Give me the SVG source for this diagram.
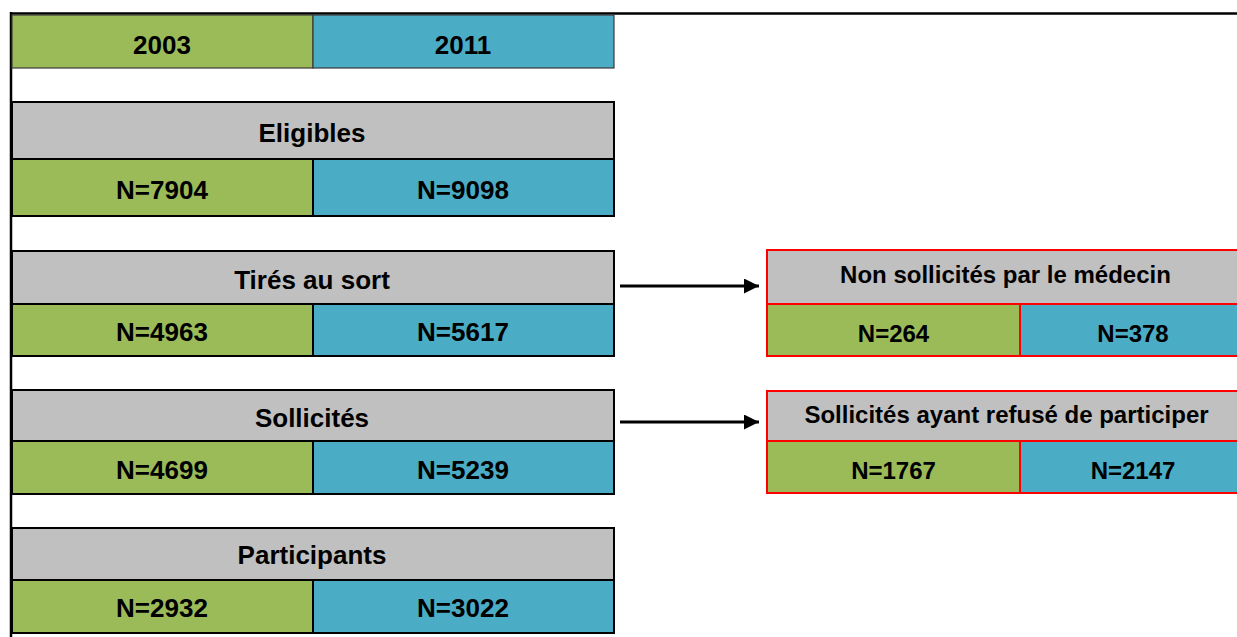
<svg xmlns="http://www.w3.org/2000/svg" width="1237" height="637" viewBox="0 0 1237 637">
<style>
  .g{fill:#9BBB59}
  .b{fill:#4BACC6}
  .h{fill:#C0C0C0}
  .lb{stroke:#000;stroke-width:2}
  .yb{stroke:#3A3A3A;stroke-width:1.2}
  .rb{stroke:#FF0000;stroke-width:2}
  text{font-family:"Liberation Sans",Arial,sans-serif;font-weight:bold;fill:#000;text-anchor:middle}
  .t26{font-size:26px}
  .t24{font-size:24px}
</style>
<defs>
  <marker id="ah" markerWidth="5" markerHeight="5" refX="5" refY="2.5" orient="auto" markerUnits="strokeWidth">
    <path d="M0,0 L5,2.5 L0,5 Z" fill="#000"/>
  </marker>
</defs>
<rect x="0" y="0" width="1237" height="637" fill="#fff"/>
<g id="frame">
  <line x1="11" y1="13.5" x2="1237" y2="13.5" stroke="#000" stroke-width="2.5"/>
  <line x1="11" y1="12" x2="11" y2="637" stroke="#000" stroke-width="2.5"/>
</g>
<g id="years">
  <rect class="g yb" x="12" y="15" width="301" height="53"/>
  <rect class="b yb" x="313" y="15" width="301" height="53"/>
  <text class="t26" x="162" y="54">2003</text>
  <text class="t26" x="463" y="54">2011</text>
</g>
<g id="eligibles">
  <rect class="h lb" x="12" y="102" width="602" height="57"/>
  <rect class="g lb" x="12" y="159" width="301" height="57"/>
  <rect class="b lb" x="313" y="159" width="301" height="57"/>
  <text class="t26" x="312" y="142">Eligibles</text>
  <text class="t26" x="162" y="199">N=7904</text>
  <text class="t26" x="463" y="199">N=9098</text>
</g>
<g id="tires">
  <rect class="h lb" x="12" y="251" width="602" height="53"/>
  <rect class="g lb" x="12" y="304" width="301" height="52"/>
  <rect class="b lb" x="313" y="304" width="301" height="52"/>
  <text class="t26" x="312" y="289">Tirés au sort</text>
  <text class="t26" x="162" y="341">N=4963</text>
  <text class="t26" x="463" y="341">N=5617</text>
</g>
<g id="sollicites">
  <rect class="h lb" x="12" y="390" width="602" height="51"/>
  <rect class="g lb" x="12" y="441" width="301" height="53"/>
  <rect class="b lb" x="313" y="441" width="301" height="53"/>
  <text class="t26" x="312" y="427">Sollicités</text>
  <text class="t26" x="162" y="479">N=4699</text>
  <text class="t26" x="463" y="479">N=5239</text>
</g>
<g id="participants">
  <rect class="h lb" x="12" y="528" width="602" height="52"/>
  <rect class="g lb" x="12" y="580" width="301" height="53"/>
  <rect class="b lb" x="313" y="580" width="301" height="53"/>
  <text class="t26" x="312" y="564">Participants</text>
  <text class="t26" x="162" y="617">N=2932</text>
  <text class="t26" x="463" y="617">N=3022</text>
</g>
<g id="non-sollicites">
  <rect class="h rb" x="767" y="250" width="478" height="54"/>
  <rect class="g rb" x="767" y="304" width="253" height="52"/>
  <rect class="b rb" x="1020" y="304" width="225" height="52"/>
  <text class="t24" x="1005.5" y="283">Non sollicités par le médecin</text>
  <text class="t24" x="893.5" y="341.5">N=264</text>
  <text class="t24" x="1133" y="341.5">N=378</text>
</g>
<g id="refus">
  <rect class="h rb" x="767" y="391" width="478" height="50"/>
  <rect class="g rb" x="767" y="441" width="253" height="52"/>
  <rect class="b rb" x="1020" y="441" width="225" height="52"/>
  <text class="t24" x="1006.5" y="423">Sollicités ayant refusé de participer</text>
  <text class="t24" x="893.5" y="479">N=1767</text>
  <text class="t24" x="1133" y="479">N=2147</text>
</g>
<g id="connectors">
  <line x1="620" y1="286" x2="759" y2="286" stroke="#000" stroke-width="3" marker-end="url(#ah)"/>
  <line x1="620" y1="422" x2="759" y2="422" stroke="#000" stroke-width="3" marker-end="url(#ah)"/>
</g>
</svg>
